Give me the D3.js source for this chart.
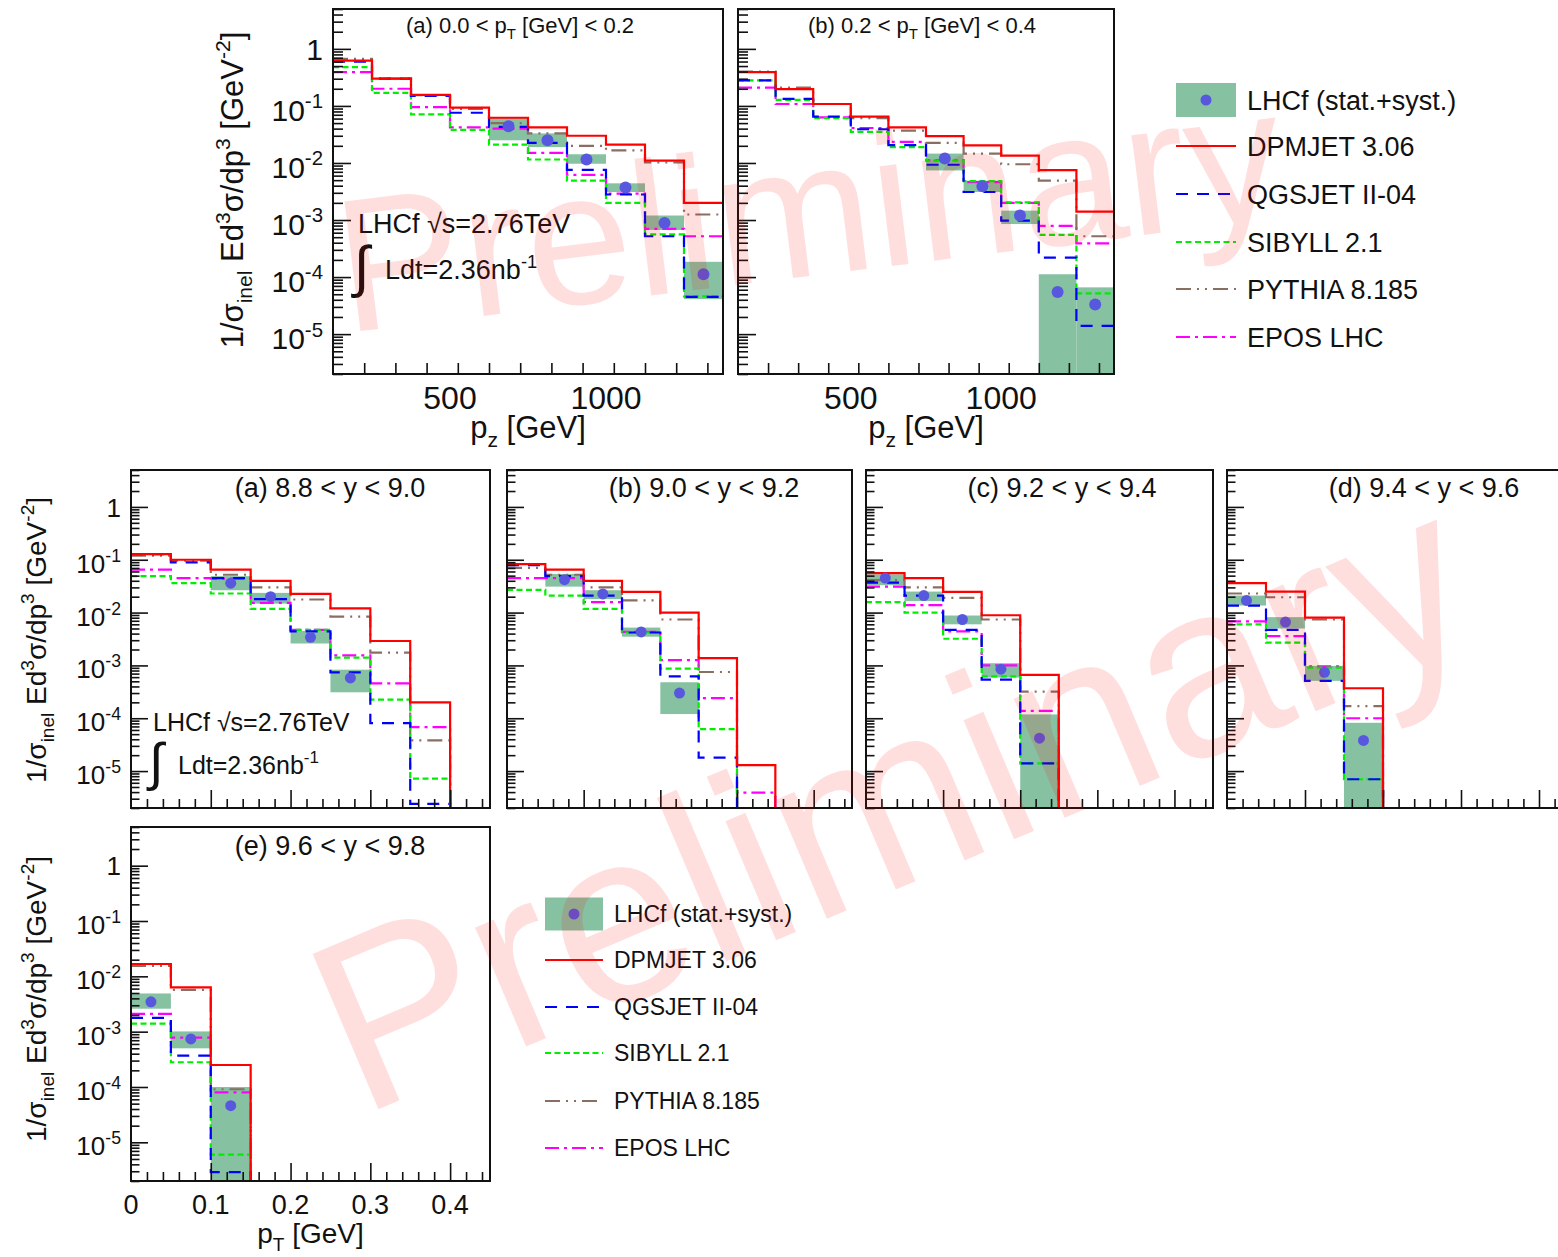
<!DOCTYPE html>
<html lang="en">
<head>
<meta charset="UTF-8">
<title>LHCf pi0 spectra at 2.76 TeV</title>
<script src="https://d3js.org/d3.v7.min.js"></script>
<style>
  body { margin: 0; background: #fff; }
  text { font-family: "Liberation Sans", Arial, sans-serif; fill: #111; }
</style>
</head>
<body>
<script>
// ---- binning / ticks ----
const pzEdges = [125, 250, 375, 500, 625, 750, 875, 1000, 1125, 1250, 1375];
const ptEdges = [0, 0.05, 0.1, 0.15, 0.2, 0.25, 0.3, 0.35, 0.4, 0.45];
const pzTickLabels = [500, 1000];
const ptTickLabels = [0, 0.1, 0.2, 0.3, 0.4];
const yDecadeLabels = [0, -1, -2, -3, -4, -5];
const yDomain = [2e-6, 5];
const modelNames = ["DPMJET 3.06", "QGSJET II-04", "SIBYLL 2.1", "PYTHIA 8.185", "EPOS LHC"];

// ---- (a) 0.0 < pT < 0.2, vs pz ----
const pzLow_dpmjet = [0.62, 0.30, 0.156, 0.093, 0.062, 0.042, 0.030, 0.021, 0.011, 0.0020];
const pzLow_qgsjet = [0.60, 0.30, 0.15, 0.076, 0.043, 0.0225, 0.0076, 0.0028, 0.00052, 4.5e-5];
const pzLow_sibyll = [0.48, 0.17, 0.071, 0.038, 0.021, 0.0115, 0.0049, 0.0020, 0.00056, 4.6e-5];
const pzLow_pythia = [0.67, 0.30, 0.155, 0.089, 0.050, 0.033, 0.020, 0.0166, 0.0102, 0.00125];
const pzLow_epos   = [0.39, 0.20, 0.095, 0.042, 0.040, 0.015, 0.0062, 0.0029, 0.0007, 0.00052];
// [bin, value, low, high]
const pzLow_lhcf = [[5, 0.044, 0.025, 0.061], [6, 0.025, 0.019, 0.033], [7, 0.0115, 0.0097, 0.0142],
                    [8, 0.0037, 0.0031, 0.0044], [9, 0.00089, 0.00067, 0.0012], [10, 0.000112, 4.1e-5, 0.000185]];

// ---- (b) 0.2 < pT < 0.4, vs pz ----
const pzHigh_dpmjet = [0.39, 0.197, 0.108, 0.065, 0.042, 0.0295, 0.0204, 0.0134, 0.0075, 0.0014];
const pzHigh_qgsjet = [0.28, 0.133, 0.065, 0.039, 0.0205, 0.0093, 0.0031, 0.00098, 0.00022, 1.4e-5];
const pzHigh_sibyll = [0.28, 0.128, 0.061, 0.035, 0.019, 0.011, 0.0048, 0.00204, 0.00055, 5.2e-5];
const pzHigh_pythia = [0.40, 0.21, 0.108, 0.061, 0.037, 0.0225, 0.0146, 0.0095, 0.0049, 0.00052];
const pzHigh_epos   = [0.21, 0.108, 0.063, 0.041, 0.0235, 0.0112, 0.0046, 0.0020, 0.00079, 0.00039];
const pzHigh_lhcf = [[6, 0.012, 0.0074, 0.0146], [7, 0.0039, 0.0031, 0.0049], [8, 0.0012, 0.00085, 0.00146],
                     [9, 5.5e-5, 0, 0.000112], [10, 3.3e-5, 0, 6.6e-5]];

// ---- rapidity bins, vs pT ----
const y88_dpmjet = [0.128, 0.10, 0.065, 0.040, 0.0226, 0.012, 0.0029, 0.0002, 0];
const y88_qgsjet = [0.128, 0.089, 0.045, 0.018, 0.0044, 0.00074, 8.1e-5, 2.4e-6, 0];
const y88_sibyll = [0.049, 0.036, 0.023, 0.0118, 0.0047, 0.0014, 0.000225, 7.2e-6, 0];
const y88_pythia = [0.119, 0.096, 0.052, 0.030, 0.0177, 0.0084, 0.00174, 3.8e-5, 0];
const y88_epos   = [0.065, 0.045, 0.044, 0.0153, 0.0047, 0.00155, 0.000457, 6.8e-5, 0];
const y88_lhcf = [[3, 0.036, 0.0265, 0.049], [4, 0.020, 0.0148, 0.0236], [5, 0.0034, 0.0026, 0.0045], [6, 0.00058, 0.00031, 0.00083]];

const y90_dpmjet = [0.083, 0.065, 0.040, 0.0247, 0.010, 0.00138, 1.3e-5, 0, 0];
const y90_qgsjet = [0.079, 0.049, 0.021, 0.0042, 0.00062, 1.8e-5, 0, 0, 0];
const y90_sibyll = [0.027, 0.021, 0.0118, 0.0042, 0.00087, 6.2e-5, 0, 0, 0];
const y90_pythia = [0.070, 0.052, 0.030, 0.017, 0.0074, 0.00075, 0, 0, 0];
const y90_epos   = [0.045, 0.045, 0.0158, 0.0043, 0.00126, 0.00024, 3.9e-6, 0, 0];
const y90_lhcf = [[2, 0.042, 0.031, 0.054], [3, 0.0226, 0.018, 0.0265], [4, 0.0043, 0.0035, 0.0052], [5, 0.0003, 0.00012, 0.00048]];

const y92_dpmjet = [0.056, 0.045, 0.0247, 0.0089, 0.00066, 0, 0, 0, 0];
const y92_qgsjet = [0.037, 0.021, 0.0047, 0.00054, 1.4e-5, 0, 0, 0, 0];
const y92_sibyll = [0.0158, 0.010, 0.0032, 0.00062, 1.4e-5, 0, 0, 0, 0];
const y92_pythia = [0.041, 0.030, 0.019, 0.0074, 0.00032, 0, 0, 0, 0];
const y92_epos   = [0.031, 0.0138, 0.0044, 0.0010, 0.000138, 0, 0, 0, 0];
const y92_lhcf = [[1, 0.045, 0.033, 0.053], [2, 0.021, 0.0165, 0.025], [3, 0.0074, 0.006, 0.0088], [4, 0.00085, 0.00059, 0.0011], [5, 4.2e-5, 0, 0.000118]];

const y94_dpmjet = [0.036, 0.025, 0.008, 0.00037, 0, 0, 0, 0, 0];
const y94_qgsjet = [0.0136, 0.0047, 0.00051, 7e-6, 0, 0, 0, 0, 0];
const y94_sibyll = [0.006, 0.0027, 0.00091, 7e-6, 0, 0, 0, 0, 0];
const y94_pythia = [0.023, 0.0195, 0.0074, 0.00017, 0, 0, 0, 0, 0];
const y94_epos   = [0.0068, 0.0036, 0.00096, 0.0001, 0, 0, 0, 0, 0];
const y94_lhcf = [[1, 0.017, 0.0136, 0.021], [2, 0.0066, 0.005, 0.0082], [3, 0.00074, 0.00051, 0.00098], [4, 3.8e-5, 0, 8.2e-5]];

const y96_dpmjet = [0.0167, 0.0063, 0.00025, 0, 0, 0, 0, 0, 0];
const y96_qgsjet = [0.00178, 0.00037, 2.9e-6, 0, 0, 0, 0, 0, 0];
const y96_sibyll = [0.0014, 0.00028, 6e-6, 0, 0, 0, 0, 0, 0];
const y96_pythia = [0.0155, 0.0057, 9.1e-5, 0, 0, 0, 0, 0, 0];
const y96_epos   = [0.0021, 0.00078, 8e-5, 0, 0, 0, 0, 0, 0];
const y96_lhcf = [[1, 0.00346, 0.0026, 0.0049], [2, 0.00074, 0.0005, 0.00101], [3, 4.6e-5, 0, 0.0001]];

// ---- styles ----
const modelColors = ["#ff0000", "#0000ff", "#00ee00", "#8a6e62", "#ff00ff"];
const modelDash = [null, "12,9", "6,3.5", "15,6,2,6,2,6", "14,5,3,5"];
const boxColor = "#86c1a2";
const dotColor = "#5858de";

const W = 1558, H = 1257;
const svg = d3.select("body").append("svg").attr("width", W).attr("height", H);

// text with sub/superscripts: parts = [[text, "sup"|"sub"|undefined], ...]
function rich(sel, parts, fs) {
  let shift = 0;
  parts.forEach(([t, kind]) => {
    const target = kind === "sup" ? -0.42 * fs : kind === "sub" ? 0.28 * fs : 0;
    sel.append("tspan")
      .attr("dy", target - shift)
      .attr("font-size", kind ? fs * 0.68 : fs)
      .text(t);
    shift = target;
  });
  return sel;
}

const yTitleParts = [["1/σ"], ["inel", "sub"], [" Ed"], ["3", "sup"], ["σ/dp"], ["3", "sup"], [" [GeV"], ["-2", "sup"], ["]"]];

const panels = [
  {x0: 333, x1: 723, y0: 9, y1: 374, edges: pzEdges, minorStep: 100, nMinor: 5, big: true,
   models: [pzLow_dpmjet, pzLow_qgsjet, pzLow_sibyll, pzLow_pythia, pzLow_epos], lhcf: pzLow_lhcf,
   yLabels: true, yTitleX: 243, yTitleY: 190, yTitleFs: 31,
   xLabels: pzTickLabels, xTitle: [["p"], ["z", "sub"], [" [GeV]"]],
   title: [["(a) 0.0 < p"], ["T", "sub"], [" [GeV] < 0.2"]], titleDx: 187, titleY: 33, titleFs: 22},
  {x0: 738, x1: 1114, y0: 9, y1: 374, edges: pzEdges, minorStep: 100, nMinor: 5, big: true,
   models: [pzHigh_dpmjet, pzHigh_qgsjet, pzHigh_sibyll, pzHigh_pythia, pzHigh_epos], lhcf: pzHigh_lhcf,
   xLabels: pzTickLabels, xTitle: [["p"], ["z", "sub"], [" [GeV]"]],
   title: [["(b) 0.2 < p"], ["T", "sub"], [" [GeV] < 0.4"]], titleDx: 184, titleY: 33, titleFs: 22},
  {x0: 131, x1: 490, y0: 470, y1: 808, edges: ptEdges, minorStep: 0.02, nMinor: 5,
   models: [y88_dpmjet, y88_qgsjet, y88_sibyll, y88_pythia, y88_epos], lhcf: y88_lhcf,
   yLabels: true, yTitleX: 46, yTitleY: 640, yTitleFs: 28,
   title: [["(a) 8.8 < y < 9.0"]], titleDx: 199, titleY: 497, titleFs: 27},
  {x0: 507, x1: 852, y0: 470, y1: 808, edges: ptEdges, minorStep: 0.02, nMinor: 5,
   models: [y90_dpmjet, y90_qgsjet, y90_sibyll, y90_pythia, y90_epos], lhcf: y90_lhcf,
   title: [["(b) 9.0 < y < 9.2"]], titleDx: 197, titleY: 497, titleFs: 27},
  {x0: 866, x1: 1213, y0: 470, y1: 808, edges: ptEdges, minorStep: 0.02, nMinor: 5,
   models: [y92_dpmjet, y92_qgsjet, y92_sibyll, y92_pythia, y92_epos], lhcf: y92_lhcf,
   title: [["(c) 9.2 < y < 9.4"]], titleDx: 196, titleY: 497, titleFs: 27},
  {x0: 1227, x1: 1578, y0: 470, y1: 808, edges: ptEdges, minorStep: 0.02, nMinor: 5,
   models: [y94_dpmjet, y94_qgsjet, y94_sibyll, y94_pythia, y94_epos], lhcf: y94_lhcf,
   title: [["(d) 9.4 < y < 9.6"]], titleDx: 197, titleY: 497, titleFs: 27},
  {x0: 131, x1: 490, y0: 827, y1: 1181, edges: ptEdges, minorStep: 0.02, nMinor: 5,
   models: [y96_dpmjet, y96_qgsjet, y96_sibyll, y96_pythia, y96_epos], lhcf: y96_lhcf,
   yLabels: true, yTitleX: 46, yTitleY: 999, yTitleFs: 28,
   xLabels: ptTickLabels, xTitle: [["p"], ["T", "sub"], [" [GeV]"]],
   title: [["(e) 9.6 < y < 9.8"]], titleDx: 199, titleY: 855, titleFs: 27}
];

function drawPanel(p) {
  const xMin = p.edges[0], xMax = p.edges[p.edges.length - 1];
  const x = d3.scaleLinear().domain([xMin, xMax]).range([p.x0, p.x1]);
  const y = d3.scaleLog().domain(yDomain).range([p.y1, p.y0]).clamp(true);
  const yv = v => y(v > 0 ? v : yDomain[0]);
  const g = svg.append("g");

  // LHCf boxes
  g.selectAll("rect.sys").data(p.lhcf).join("rect")
    .attr("x", d => x(p.edges[d[0] - 1]))
    .attr("width", d => x(p.edges[d[0]]) - x(p.edges[d[0] - 1]))
    .attr("y", d => yv(d[3]))
    .attr("height", d => yv(d[2]) - yv(d[3]))
    .attr("fill", boxColor);

  // model histograms
  const line = d3.line().x(d => x(d[0])).y(d => yv(d[1]));
  for (let i = p.models.length - 1; i >= 0; i--) {
    const pts = [];
    p.models[i].forEach((v, j) => { pts.push([p.edges[j], v], [p.edges[j + 1], v]); });
    g.append("path").attr("d", line(pts))
      .attr("fill", "none")
      .attr("stroke", modelColors[i])
      .attr("stroke-width", 2.2)
      .attr("stroke-dasharray", modelDash[i]);
  }

  // LHCf points
  g.selectAll("circle").data(p.lhcf).join("circle")
    .attr("cx", d => x((p.edges[d[0] - 1] + p.edges[d[0]]) / 2))
    .attr("cy", d => yv(d[1]))
    .attr("r", p.big ? 6 : 5.5)
    .attr("fill", dotColor);

  // y axis ticks (log, inside)
  const majY = [], minY = [];
  for (let k = -6; k <= 0; k++) {
    for (let m = 1; m <= 9; m++) {
      const v = m * Math.pow(10, k);
      if (v < yDomain[0] || v > yDomain[1]) continue;
      (m === 1 ? majY : minY).push(v);
    }
  }
  const yMajLen = p.big ? 18 : 17, yMinLen = p.big ? 10 : 8.5;
  [[minY, yMinLen], [majY, yMajLen]].forEach(([vals, len]) => {
    const ax = g.append("g").attr("transform", `translate(${p.x0},0)`)
      .call(d3.axisLeft(y).tickValues(vals).tickSize(-len).tickFormat(""));
    ax.select(".domain").remove();
    ax.selectAll("line").attr("stroke", "#111").attr("stroke-width", 1.6);
  });

  // x axis ticks (inside)
  const majX = [], minX = [];
  for (let i = 1; xMin + i * p.minorStep < xMax - 1e-9; i++) {
    const v = +(xMin + i * p.minorStep).toFixed(6);
    const isMajor = Math.abs(v / (p.minorStep * p.nMinor) - Math.round(v / (p.minorStep * p.nMinor))) < 1e-6;
    (isMajor ? majX : minX).push(v);
  }
  const xMajLen = p.big ? 20 : 18, xMinLen = p.big ? 11 : 9;
  [[minX, xMinLen], [majX, xMajLen]].forEach(([vals, len]) => {
    const ax = g.append("g").attr("transform", `translate(0,${p.y1})`)
      .call(d3.axisBottom(x).tickValues(vals).tickSize(-len).tickFormat(""));
    ax.select(".domain").remove();
    ax.selectAll("line").attr("stroke", "#111").attr("stroke-width", 1.6);
  });

  // frame
  g.append("rect").attr("x", p.x0).attr("y", p.y0)
    .attr("width", p.x1 - p.x0).attr("height", p.y1 - p.y0)
    .attr("fill", "none").attr("stroke", "#111").attr("stroke-width", 2);

  // y labels
  if (p.yLabels) {
    const fs = p.big ? 30 : 26;
    yDecadeLabels.forEach(k => {
      const t = g.append("text").attr("x", p.x0 - 10).attr("text-anchor", "end").attr("font-size", fs);
      if (k === 0) {
        t.attr("y", y(1) + 0.37 * fs).text("1");
      } else {
        t.attr("y", y(Math.pow(10, k)) + 0.5 * fs);
        rich(t, [["10"], [String(k), "sup"]], fs);
      }
    });
    const tt = g.append("text")
      .attr("transform", `translate(${p.yTitleX},${p.yTitleY}) rotate(-90)`)
      .attr("text-anchor", "middle").attr("font-size", p.yTitleFs);
    rich(tt, yTitleParts, p.yTitleFs);
  }

  // x labels
  if (p.xLabels) {
    const fs = p.big ? 32 : 27;
    p.xLabels.forEach(v => {
      g.append("text").attr("x", x(v)).attr("y", p.y1 + (p.big ? 35 : 33))
        .attr("text-anchor", "middle").attr("font-size", fs).text(v);
    });
    const xt = g.append("text").attr("x", (p.x0 + p.x1) / 2).attr("y", p.y1 + (p.big ? 64 : 62))
      .attr("text-anchor", "middle").attr("font-size", p.big ? 31 : 28);
    rich(xt, p.xTitle, p.big ? 31 : 28);
  }

  // panel title
  const tl = g.append("text").attr("x", p.x0 + p.titleDx).attr("y", p.titleY)
    .attr("text-anchor", "middle").attr("font-size", p.titleFs);
  rich(tl, p.title, p.titleFs);
}

panels.forEach(drawPanel);

// run annotation
function runLabel(x, y, fs) {
  const g = svg.append("g");
  g.append("text").attr("x", x).attr("y", y).attr("font-size", fs).text("LHCf √s=2.76TeV");
  g.append("text").attr("x", x - 4).attr("y", y + 1.95 * fs).attr("font-size", fs * 2.1)
    .attr("font-family", "DejaVu Sans").text("∫");
  const t = g.append("text").attr("x", x + fs * 1.0).attr("y", y + 1.7 * fs).attr("font-size", fs);
  rich(t, [["Ldt=2.36nb"], ["-1", "sup"]], fs);
}
runLabel(358, 233, 27);
runLabel(153, 731, 25);

// legends
function legend(x, rows, boxW, boxH, fs) {
  const g = svg.append("g");
  g.append("rect").attr("x", x).attr("y", rows[0] - boxH / 2).attr("width", boxW).attr("height", boxH).attr("fill", boxColor);
  g.append("circle").attr("cx", x + boxW / 2).attr("cy", rows[0]).attr("r", 5.5).attr("fill", dotColor);
  g.append("text").attr("x", x + boxW + 11).attr("y", rows[0] + 0.36 * fs).attr("font-size", fs).text("LHCf (stat.+syst.)");
  modelNames.forEach((name, i) => {
    const cy = rows[i + 1];
    g.append("line").attr("x1", x).attr("x2", x + boxW).attr("y1", cy).attr("y2", cy)
      .attr("stroke", modelColors[i]).attr("stroke-width", 2.2).attr("stroke-dasharray", modelDash[i]);
    g.append("text").attr("x", x + boxW + 11).attr("y", cy + 0.36 * fs).attr("font-size", fs).text(name);
  });
}
legend(1176, [100, 146, 194, 242, 289, 337], 60, 34, 27);
legend(545, [914, 960, 1007, 1053, 1101, 1148], 58, 33, 23);

// watermarks
svg.append("text").attr("transform", "translate(345,333) rotate(-7)")
  .attr("font-size", 190).style("fill", "#ff0000").attr("fill-opacity", 0.13).text("Preliminary");
svg.append("text").attr("transform", "translate(360,1117) rotate(-23)")
  .attr("font-size", 245).style("fill", "#ff0000").attr("fill-opacity", 0.13).text("Preliminary");
</script>
</body>
</html>
